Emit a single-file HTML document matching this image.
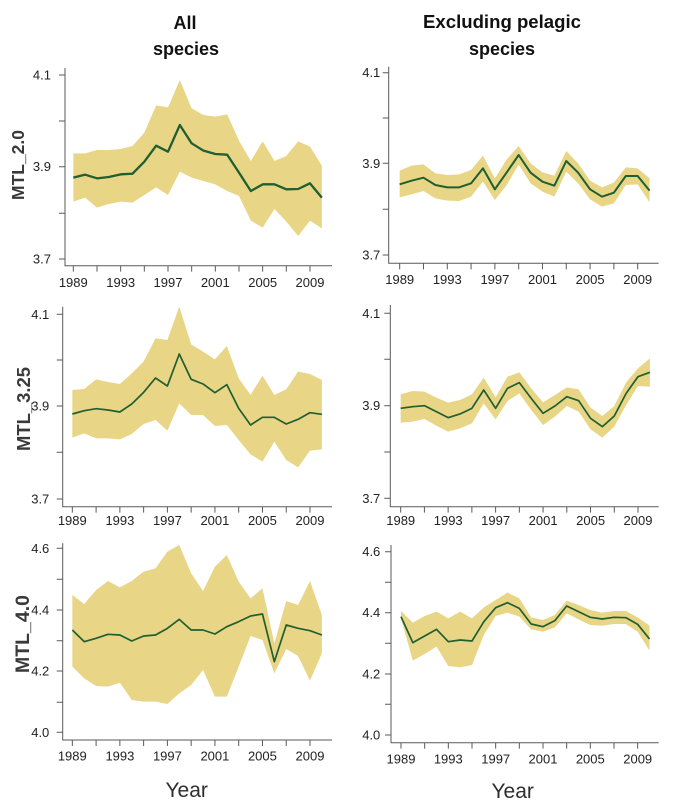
<!DOCTYPE html>
<html>
<head>
<meta charset="utf-8">
<style>
html,body{margin:0;padding:0;background:#fff;}
svg{display:block;}
.tk{font-family:"Liberation Sans",Arial,sans-serif;font-size:13px;fill:#222;}
.ttl{font-family:"Liberation Sans",Arial,sans-serif;font-size:18px;font-weight:bold;fill:#111;}
.yl{font-family:"Liberation Sans",Arial,sans-serif;font-weight:bold;fill:#3a3a3a;}
.xl{font-family:"Liberation Sans",Arial,sans-serif;font-size:21px;fill:#2e2e2e;}
.band{fill:#e8d586;stroke:none;}
.ln{fill:none;stroke:#1f5f30;stroke-linejoin:round;}
.ax{stroke:#5a5a5a;stroke-width:1;fill:none;}
</style>
</head>
<body>
<svg width="684" height="808" viewBox="0 0 684 808" xmlns="http://www.w3.org/2000/svg">
<rect width="684" height="808" fill="#fff"/>

<!-- Titles -->
<text class="ttl" x="185" y="29" text-anchor="middle">All</text>
<text class="ttl" x="186" y="55" text-anchor="middle">species</text>
<text class="ttl" x="502" y="28" text-anchor="middle" textLength="158" lengthAdjust="spacingAndGlyphs">Excluding pelagic</text>
<text class="ttl" x="502" y="55" text-anchor="middle">species</text>

<!-- Y labels -->
<text class="yl" font-size="17.5" transform="translate(24,165) rotate(-90)" text-anchor="middle" textLength="70" lengthAdjust="spacingAndGlyphs">MTL_2.0</text>
<text class="yl" font-size="18.5" transform="translate(30,409) rotate(-90)" text-anchor="middle" textLength="84" lengthAdjust="spacingAndGlyphs">MTL_3.25</text>
<text class="yl" font-size="19" transform="translate(29,634) rotate(-90)" text-anchor="middle" textLength="78" lengthAdjust="spacingAndGlyphs">MTL_4.0</text>

<!-- X labels -->
<text class="xl" x="186.7" y="797" text-anchor="middle">Year</text>
<text class="xl" x="512.7" y="798" text-anchor="middle">Year</text>

<!-- ================= Panel TL ================= -->
<g transform="translate(73.33,0) scale(11.833,0.33333)">
<path class="band" d="M0,460 L1,460 L2,450 L3,450 L4,447 L5,438 L6,398 L7,316 L8,322 L9,240 L10,325 L11,345 L12,350 L13,343 L14,422 L15,483 L16,424 L17,483 L18,468 L19,424 L20,440 L21,497 L21,685 L20,662 L19,708 L18,665 L17,627 L16,683 L15,662 L14,588 L13,573 L12,553 L11,543 L10,533 L9,515 L8,585 L7,562 L6,585 L5,608 L4,605 L3,612 L2,623 L1,593 L0,605 Z"/>
<path class="ln" vector-effect="non-scaling-stroke" stroke-width="2.3" d="M0,533 L1,524 L2,535 L3,531 L4,523 L5,521 L6,485 L7,437 L8,455 L9,375 L10,430 L11,452 L12,462 L13,464 L14,518 L15,573 L16,553 L17,553 L18,568 L19,567 L20,550 L21,593"/>
<path class="ax" vector-effect="non-scaling-stroke" d="M0,797 V815 M2,797 V815 M4,797 V815 M6,797 V815 M8,797 V815 M10,797 V815 M12,797 V815 M14,797 V815 M16,797 V815 M18,797 V815 M20,797 V815"/>
</g>
<path class="ax" d="M65,68 V265.7 H332 M59,75 H65 M59,121 H65 M59,166.7 H65 M59,213.3 H65 M59,259 H65"/>
<g class="tk" text-anchor="end">
<text x="51" y="79.5">4.1</text><text x="51" y="171.2">3.9</text><text x="51" y="263.5">3.7</text>
</g>
<g class="tk" text-anchor="middle">
<text x="73.3" y="287">1989</text><text x="120.7" y="287">1993</text><text x="168" y="287">1997</text><text x="215.3" y="287">2001</text><text x="262.7" y="287">2005</text><text x="310" y="287">2009</text>
</g>

<!-- ================= Panel TR ================= -->
<g transform="translate(399.67,0) scale(11.9,0.33333)">
<path class="band" d="M0,512 L1,497 L2,493 L3,520 L4,525 L5,523 L6,510 L7,467 L8,535 L9,478 L10,438 L11,490 L12,517 L13,527 L14,453 L15,490 L16,542 L17,562 L18,548 L19,502 L20,505 L21,535 L21,607 L20,553 L19,555 L18,610 L17,620 L16,598 L15,550 L14,515 L13,590 L12,575 L11,550 L10,493 L9,555 L8,600 L7,545 L6,590 L5,603 L4,602 L3,595 L2,573 L1,583 L0,592 Z"/>
<path class="ln" vector-effect="non-scaling-stroke" stroke-width="2" d="M0,553 L1,542 L2,533 L3,555 L4,562 L5,562 L6,550 L7,505 L8,568 L9,517 L10,465 L11,518 L12,545 L13,557 L14,483 L15,518 L16,568 L17,590 L18,578 L19,528 L20,528 L21,572"/>
<path class="ax" vector-effect="non-scaling-stroke" d="M0,790 V808 M2,790 V808 M4,790 V808 M6,790 V808 M8,790 V808 M10,790 V808 M12,790 V808 M14,790 V808 M16,790 V808 M18,790 V808 M20,790 V808"/>
</g>
<path class="ax" d="M388.7,66.7 V263.3 H658.7 M382.7,72.7 H388.7 M382.7,118 H388.7 M382.7,163.3 H388.7 M382.7,209.3 H388.7 M382.7,255 H388.7"/>
<g class="tk" text-anchor="end">
<text x="380.3" y="77.2">4.1</text><text x="380.3" y="167.8">3.9</text><text x="380.3" y="259.5">3.7</text>
</g>
<g class="tk" text-anchor="middle">
<text x="399.7" y="284">1989</text><text x="447.3" y="284">1993</text><text x="494.9" y="284">1997</text><text x="542.5" y="284">2001</text><text x="590.1" y="284">2005</text><text x="637.7" y="284">2009</text>
</g>

<!-- ================= Panel ML ================= -->
<g transform="translate(72.33,280) scale(11.883,0.33333)">
<path class="band" d="M0,330 L1,327 L2,298 L3,306 L4,312 L5,280 L6,245 L7,175 L8,180 L9,80 L10,193 L11,215 L12,238 L13,198 L14,295 L15,345 L16,287 L17,345 L18,328 L19,275 L20,282 L21,300 L21,508 L20,512 L19,562 L18,540 L17,485 L16,545 L15,523 L14,480 L13,435 L12,438 L11,405 L10,405 L9,370 L8,452 L7,420 L6,432 L5,462 L4,478 L3,475 L2,475 L1,460 L0,473 Z"/>
<path class="ln" vector-effect="non-scaling-stroke" stroke-width="1.7" d="M0,402 L1,392 L2,386 L3,390 L4,396 L5,372 L6,337 L7,294 L8,318 L9,222 L10,298 L11,312 L12,338 L13,314 L14,385 L15,435 L16,412 L17,412 L18,432 L19,418 L20,398 L21,403"/>
<path class="ax" vector-effect="non-scaling-stroke" d="M0,680 V698 M2,680 V698 M4,680 V698 M6,680 V698 M8,680 V698 M10,680 V698 M12,680 V698 M14,680 V698 M16,680 V698 M18,680 V698 M20,680 V698"/>
</g>
<path class="ax" d="M62.7,306.7 V506.7 H332 M56.7,314.3 H62.7 M56.7,360 H62.7 M56.7,406 H62.7 M56.7,452.3 H62.7 M56.7,499 H62.7"/>
<g class="tk" text-anchor="end">
<text x="49.3" y="318.8">4.1</text><text x="49.3" y="410.5">3.9</text><text x="49.3" y="503.5">3.7</text>
</g>
<g class="tk" text-anchor="middle">
<text x="72.3" y="525">1989</text><text x="119.9" y="525">1993</text><text x="167.4" y="525">1997</text><text x="214.9" y="525">2001</text><text x="262.4" y="525">2005</text><text x="310" y="525">2009</text>
</g>

<!-- ================= Panel MR ================= -->
<g transform="translate(400.67,280) scale(11.867,0.33333)">
<path class="band" d="M0,343 L1,333 L2,335 L3,353 L4,368 L5,360 L6,343 L7,293 L8,352 L9,290 L10,277 L11,325 L12,367 L13,345 L14,322 L15,328 L16,383 L17,408 L18,378 L19,307 L20,265 L21,235 L21,320 L20,318 L19,375 L18,440 L17,473 L16,448 L15,395 L14,378 L13,410 L12,435 L11,390 L10,340 L9,363 L8,418 L7,370 L6,430 L5,445 L4,455 L3,437 L2,417 L1,425 L0,428 Z"/>
<path class="ln" vector-effect="non-scaling-stroke" stroke-width="1.7" d="M0,385 L1,380 L2,377 L3,395 L4,413 L5,402 L6,385 L7,330 L8,385 L9,325 L10,308 L11,355 L12,400 L13,378 L14,350 L15,362 L16,415 L17,440 L18,408 L19,340 L20,290 L21,277"/>
<path class="ax" vector-effect="non-scaling-stroke" d="M0,680 V698 M2,680 V698 M4,680 V698 M6,680 V698 M8,680 V698 M10,680 V698 M12,680 V698 M14,680 V698 M16,680 V698 M18,680 V698 M20,680 V698"/>
</g>
<path class="ax" d="M390.3,305 V506.7 H658.7 M384.3,313.3 H390.3 M384.3,359.3 H390.3 M384.3,405.7 H390.3 M384.3,452 H390.3 M384.3,498.3 H390.3"/>
<g class="tk" text-anchor="end">
<text x="380.3" y="317.8">4.1</text><text x="380.3" y="410.2">3.9</text><text x="380.3" y="502.8">3.7</text>
</g>
<g class="tk" text-anchor="middle">
<text x="400.7" y="525">1989</text><text x="448.2" y="525">1993</text><text x="495.6" y="525">1997</text><text x="543.1" y="525">2001</text><text x="590.6" y="525">2005</text><text x="638" y="525">2009</text>
</g>

<!-- ================= Panel BL ================= -->
<g transform="translate(72.33,530) scale(11.883,0.33333)">
<path class="band" d="M0,195 L1,222 L2,180 L3,153 L4,172 L5,153 L6,125 L7,115 L8,65 L9,45 L10,130 L11,183 L12,110 L13,75 L14,155 L15,205 L16,175 L17,340 L18,213 L19,225 L20,153 L21,255 L21,370 L20,452 L19,378 L18,357 L17,430 L16,330 L15,318 L14,410 L13,500 L12,500 L11,420 L10,465 L9,490 L8,522 L7,515 L6,515 L5,510 L4,458 L3,470 L2,468 L1,445 L0,410 Z"/>
<path class="ln" vector-effect="non-scaling-stroke" stroke-width="1.7" d="M0,300 L1,335 L2,325 L3,313 L4,315 L5,333 L6,318 L7,315 L8,295 L9,268 L10,300 L11,300 L12,312 L13,290 L14,275 L15,258 L16,252 L17,395 L18,285 L19,295 L20,302 L21,315"/>
<path class="ax" vector-effect="non-scaling-stroke" d="M0,630 V648 M2,630 V648 M4,630 V648 M6,630 V648 M8,630 V648 M10,630 V648 M12,630 V648 M14,630 V648 M16,630 V648 M18,630 V648 M20,630 V648"/>
</g>
<path class="ax" d="M62.7,543.3 V740 H332 M56.7,548.3 H62.7 M56.7,579.3 H62.7 M56.7,610 H62.7 M56.7,640.7 H62.7 M56.7,671 H62.7 M56.7,702.3 H62.7 M56.7,732.3 H62.7"/>
<g class="tk" text-anchor="end">
<text x="49.3" y="552.8">4.6</text><text x="49.3" y="614.5">4.4</text><text x="49.3" y="675.5">4.2</text><text x="49.3" y="736.8">4.0</text>
</g>
<g class="tk" text-anchor="middle">
<text x="72.3" y="760.7">1989</text><text x="119.9" y="760.7">1993</text><text x="167.4" y="760.7">1997</text><text x="214.9" y="760.7">2001</text><text x="262.4" y="760.7">2005</text><text x="310" y="760.7">2009</text>
</g>

<!-- ================= Panel BR ================= -->
<g transform="translate(401,530) scale(11.833,0.33333)">
<path class="band" d="M0,243 L1,278 L2,258 L3,245 L4,265 L5,245 L6,265 L7,232 L8,210 L9,188 L10,205 L11,262 L12,270 L13,255 L14,212 L15,225 L16,240 L17,248 L18,243 L19,243 L20,262 L21,287 L21,362 L20,305 L19,282 L18,282 L17,287 L16,285 L15,268 L14,250 L13,292 L12,305 L11,298 L10,260 L9,248 L8,258 L7,315 L6,405 L5,412 L4,408 L3,350 L2,372 L1,392 L0,265 Z"/>
<path class="ln" vector-effect="non-scaling-stroke" stroke-width="1.7" d="M0,260 L1,338 L2,318 L3,298 L4,335 L5,330 L6,333 L7,275 L8,233 L9,218 L10,235 L11,282 L12,290 L13,272 L14,228 L15,245 L16,262 L17,267 L18,262 L19,263 L20,283 L21,327"/>
<path class="ax" vector-effect="non-scaling-stroke" d="M0,638 V656 M2,638 V656 M4,638 V656 M6,638 V656 M8,638 V656 M10,638 V656 M12,638 V656 M14,638 V656 M16,638 V656 M18,638 V656 M20,638 V656"/>
</g>
<path class="ax" d="M391,545 V742.7 H658.7 M385,551.7 H391 M385,582.3 H391 M385,612.7 H391 M385,643.3 H391 M385,674 H391 M385,704.3 H391 M385,735 H391"/>
<g class="tk" text-anchor="end">
<text x="380.3" y="556.2">4.6</text><text x="380.3" y="617.2">4.4</text><text x="380.3" y="678.5">4.2</text><text x="380.3" y="739.5">4.0</text>
</g>
<g class="tk" text-anchor="middle">
<text x="401" y="763.3">1989</text><text x="448.3" y="763.3">1993</text><text x="495.7" y="763.3">1997</text><text x="543" y="763.3">2001</text><text x="590.3" y="763.3">2005</text><text x="637.7" y="763.3">2009</text>
</g>

</svg>
</body>
</html>
